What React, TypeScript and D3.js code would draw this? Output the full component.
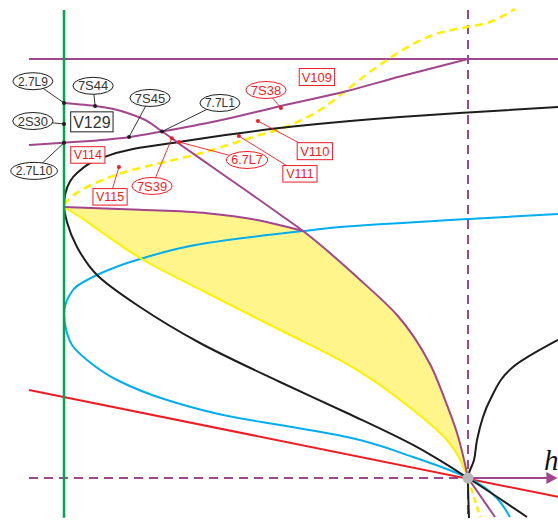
import React from "react";
import * as d3 from "d3";

type P = [number, number];

// ---- data (u: 0 at green line, 1 at dashed vertical; v: 0 at h-axis, 1 at top line) ----
const blackMain: P[] = [
  [1.2228, 0.8854], [1.0, 0.8723], [0.8317, 0.8616], [0.5668, 0.8389], [0.3787, 0.8155],
  [0.2847, 0.8019], [0.1708, 0.7852], [0.0891, 0.7625], [0.0322, 0.7279], [0.0037, 0.6802],
  [0, 0.6504], [0.0074, 0.611], [0.0322, 0.5513], [0.0817, 0.4845], [0.1881, 0.4081],
  [0.3366, 0.3222], [0.5347, 0.2291], [0.7005, 0.1551], [0.8639, 0.0788], [1, 0], [1.146, -0.0931],
];
const blackRight: P[] = [
  [1.2228, 0.3294], [1.1114, 0.2649], [1.0545, 0.1862], [1.0223, 0.0907], [1.0149, 0.043],
  [1, 0], [1.0025, -0.0955],
];
const blueCurve: P[] = [
  [1.2228, 0.6301], [1.0025, 0.6181], [0.6832, 0.599], [0.5916, 0.5895], [0.354, 0.5609],
  [0.1881, 0.5227], [0.0817, 0.4845], [0.0223, 0.4487], [0, 0.3914], [0.0074, 0.3461],
  [0.0198, 0.3174], [0.0569, 0.2816], [0.1312, 0.2339], [0.255, 0.1862], [0.4183, 0.1456],
  [0.5347, 0.1265], [0.7005, 0.0979], [0.8639, 0.0501], [1, 0], [1.104, -0.0931],
];
const redLine: P[] = [[-0.0866, 0.21], [1.2228, -0.045]];
const yellowLower: P[] = [
  [0, 0.6468], [0.0396, 0.6229], [0.0891, 0.5895], [0.1881, 0.5251], [0.354, 0.4415],
  [0.5347, 0.3532], [0.7005, 0.2721], [0.8639, 0.1623], [0.948, 0.0907], [1, 0],
];
const yellowTail: P[] = [[1, 0], [1.03, -0.0931]];
const yellowDashed: P[] = [
  [0, 0.6516], [0.0149, 0.6683], [0.0396, 0.685], [0.0891, 0.7088], [0.1386, 0.7267],
  [0.2129, 0.7458], [0.2871, 0.7625], [0.3366, 0.7745], [0.4604, 0.8115], [0.5668, 0.8449],
  [0.6337, 0.8783], [0.7005, 0.926], [0.75, 0.9642], [0.7995, 0.9976], [0.8639, 1.0358],
  [0.9134, 1.0573], [0.9975, 1.0764], [1.0545, 1.0883], [1.1163, 1.1193],
];
const purpleUpperYellow: P[] = [[0, 0.6468], [0.1881, 0.64], [0.354, 0.632], [0.4777, 0.6158], [0.5916, 0.5895]];
const purpleDesc: P[] = [
  [0, 0.895], [0.0817, 0.8874], [0.1708, 0.8663], [0.2426, 0.827], [0.2946, 0.7912],
  [0.3688, 0.7411], [0.5347, 0.6289], [0.5916, 0.5895], [0.7277, 0.4773], [0.8243, 0.389],
  [0.9059, 0.2721], [0.9431, 0.1862], [0.9728, 0.1074], [1, 0],
];
const purpleTail: P[] = [[1, 0], [1.0668, -0.0931]];
const purpleRising: P[] = [
  [-0.0866, 0.7947], [0, 0.8], [0.1634, 0.8138], [0.2426, 0.827], [0.3787, 0.852],
  [0.5347, 0.8874], [0.7005, 0.9236], [0.8317, 0.9582], [1, 1],
];
const topLine: P[] = [[-0.0866, 1], [1.2228, 1]];
const greenLine: P[] = [[0, 1.117], [0, -0.095]];
const dashedVertical: P[] = [[1, 1.117], [1, -0.095]];
const hAxisDashed: P[] = [[-0.0866, 0], [1, 0]];
const hAxisArrow: P[] = [[1, 0], [1.199, 0]];

type Label = { text: string; kind: "ellipse" | "rect"; color: "black" | "red"; pos: P; at?: P; size: number };
const labels: Label[] = [
  { text: "2.7L9", kind: "ellipse", color: "black", pos: [-0.077, 0.947], at: [0, 0.895], size: 12 },
  { text: "7S44", kind: "ellipse", color: "black", pos: [0.072, 0.936], at: [0.077, 0.888], size: 13 },
  { text: "7S45", kind: "ellipse", color: "black", pos: [0.213, 0.907], at: [0.161, 0.814], size: 13 },
  { text: "7.7L1", kind: "ellipse", color: "black", pos: [0.386, 0.895], at: [0.2426, 0.827], size: 12 },
  { text: "2S30", kind: "ellipse", color: "black", pos: [-0.077, 0.852], at: [0, 0.845], size: 13 },
  { text: "2.7L10", kind: "ellipse", color: "black", pos: [-0.074, 0.733], at: [0, 0.8], size: 12 },
  { text: "V129", kind: "rect", color: "black", pos: [0.069, 0.85], size: 16 },
  { text: "V114", kind: "rect", color: "red", pos: [0.059, 0.771], size: 12.5 },
  { text: "V115", kind: "rect", color: "red", pos: [0.114, 0.671], at: [0.136, 0.742], size: 12.5 },
  { text: "7S39", kind: "ellipse", color: "red", pos: [0.218, 0.697], at: [0.267, 0.811], size: 13 },
  { text: "6.7L7", kind: "ellipse", color: "red", pos: [0.453, 0.759], at: [0.2847, 0.8019], size: 12.5 },
  { text: "7S38", kind: "ellipse", color: "red", pos: [0.5, 0.926], at: [0.537, 0.883], size: 13 },
  { text: "V109", kind: "rect", color: "red", pos: [0.626, 0.957], size: 13 },
  { text: "V110", kind: "rect", color: "red", pos: [0.621, 0.78], at: [0.48, 0.852], size: 13 },
  { text: "V111", kind: "rect", color: "red", pos: [0.584, 0.726], at: [0.433, 0.816], size: 12.5 },
];

const C = {
  purple: "#a1468d",
  green: "#00a651",
  blue: "#00aeef",
  red: "#ee1d25",
  black: "#1d1d1b",
  yellow: "#fff000",
  fill: "#fff58a",
  grey: "#b8b8b8",
};

const charW: Record<string, number> = { ".": 0.278, L: 0.556, S: 0.667, V: 0.667 };
const textWidth = (t: string, s: number) =>
  t.split("").reduce((a, ch) => a + (charW[ch] ?? 0.556), 0) * s;

export default function App() {
  const W = 558, H = 520;
  const x = d3.scaleLinear().domain([0, 1]).range([64, 468]);
  const y = d3.scaleLinear().domain([0, 1]).range([478, 59]);
  const lineY = d3.line<P>().x((d) => x(d[0])).y((d) => y(d[1])).curve(d3.curveMonotoneY);
  const lineX = d3.line<P>().x((d) => x(d[0])).y((d) => y(d[1])).curve(d3.curveMonotoneX);
  const straight = d3.line<P>().x((d) => x(d[0])).y((d) => y(d[1]));

  const cut = purpleDesc.findIndex((p) => p[0] === purpleUpperYellow[purpleUpperYellow.length - 1][0]);
  const fillPath =
    (lineX(purpleUpperYellow) as string) +
    (lineY(purpleDesc.slice(cut)) as string).replace(/^M/, "L") +
    (lineY([...yellowLower].reverse()) as string).replace(/^M/, "L") +
    "Z";

  const font = "'Liberation Sans', Arial, sans-serif";
  const ox = x(1), oy = y(0);
  const arrowEnd = x(hAxisArrow[1][0]);

  return (
    <svg width={W} height={H} style={{ position: "absolute", left: 0, top: 0, background: "#fff" }}>
      <path d={fillPath} fill={C.fill} stroke="none" />

      {/* frame lines */}
      <path d={straight(topLine) as string} stroke={C.purple} strokeWidth={2} fill="none" />
      <path d={straight(dashedVertical) as string} stroke={C.purple} strokeWidth={2} strokeDasharray="9 6" fill="none" />
      <path d={straight(hAxisDashed) as string} stroke={C.purple} strokeWidth={2} strokeDasharray="9 6" fill="none" />
      <path d={straight(hAxisArrow) as string} stroke={C.purple} strokeWidth={2} fill="none" />
      <path d={`M${arrowEnd - 2},${oy - 6}L${arrowEnd + 9},${oy}L${arrowEnd - 2},${oy + 6}Z`} fill={C.purple} />

      {/* curves */}
      <path d={straight(redLine) as string} stroke={C.red} strokeWidth={2} fill="none" />
      <path d={lineY(blueCurve) as string} stroke={C.blue} strokeWidth={2} fill="none" />
      <path d={lineX(yellowDashed) as string} stroke={C.yellow} strokeWidth={2.5} strokeDasharray="8 5" fill="none" />
      <path d={lineY(blackMain) as string} stroke={C.black} strokeWidth={2} fill="none" />
      <path d={lineY(blackRight) as string} stroke={C.black} strokeWidth={2} fill="none" />
      <path d={lineY(yellowLower) as string} stroke={C.yellow} strokeWidth={2} fill="none" />
      <path d={straight(yellowTail) as string} stroke={C.yellow} strokeWidth={2.5} strokeDasharray="6 4" fill="none" />
      <path d={lineX(purpleUpperYellow) as string} stroke={C.purple} strokeWidth={2} fill="none" />
      <path d={lineY(purpleDesc) as string} stroke={C.purple} strokeWidth={2} fill="none" />
      <path d={straight(purpleTail) as string} stroke={C.purple} strokeWidth={2} fill="none" />
      <path d={lineX(purpleRising) as string} stroke={C.purple} strokeWidth={2} fill="none" />
      <path d={straight(greenLine) as string} stroke={C.green} strokeWidth={2.5} fill="none" />

      {/* labels */}
      {labels.map((l, i) => {
        const col = l.color === "red" ? C.red : C.black;
        const tcol = l.color === "red" ? C.red : "#333";
        const cx = x(l.pos[0]), cy = y(l.pos[1]);
        const tw = textWidth(l.text, l.size);
        return (
          <g key={i}>
            {l.at && (
              <>
                <line x1={x(l.at[0])} y1={y(l.at[1])} x2={cx} y2={cy} stroke={col} strokeWidth={0.9} />
                <circle cx={x(l.at[0])} cy={y(l.at[1])} r={2} fill={col} />
              </>
            )}
            {l.kind === "ellipse" ? (
              <ellipse cx={cx} cy={cy} rx={tw / 2 + 5} ry={8.5} fill="#fff" stroke={col} strokeWidth={1} />
            ) : (
              <rect x={cx - tw / 2 - 2.5} y={cy - l.size / 2 - 2} width={tw + 5} height={l.size + 4} fill="#fff" stroke={col} strokeWidth={1} />
            )}
            <text x={cx} y={cy} dy="0.36em" textAnchor="middle" fontFamily={font} fontSize={l.size} fill={tcol}>
              {l.text}
            </text>
          </g>
        );
      })}

      <circle cx={ox} cy={oy} r={5.5} fill={C.grey} />
      <text x={544} y={470} fontFamily="'Liberation Serif', 'Times New Roman', serif" fontStyle="italic" fontSize={29} fill="#111">
        h
      </text>
    </svg>
  );
}
